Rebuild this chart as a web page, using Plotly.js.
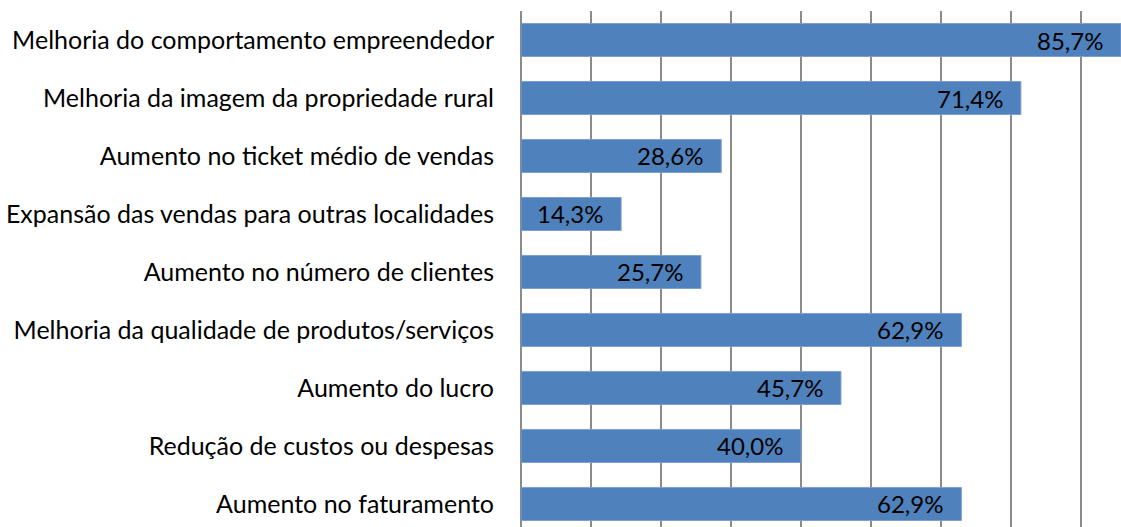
<!DOCTYPE html>
<html><head><meta charset="utf-8">
<script src="https://cdn.plot.ly/plotly-3.0.1.min.js"></script>
<style>html,body{margin:0;padding:0;background:#fff}#chart{width:1121px;height:527px}</style>
</head><body><div id="chart"></div>
<script>
const categories = [
  "Aumento no faturamento",
  "Redução de custos ou despesas",
  "Aumento do lucro",
  "Melhoria da qualidade de produtos/serviços",
  "Aumento no número de clientes",
  "Expansão das vendas para outras localidades",
  "Aumento no ticket médio de vendas",
  "Melhoria da imagem da propriedade rural",
  "Melhoria do comportamento empreendedor"
];
const values = [62.9, 40.0, 45.7, 62.9, 25.7, 14.3, 28.6, 71.4, 85.7];
const labels = values.map(v => v.toFixed(1).replace('.', ',') + '%');

const FONT = 'Lato, "Liberation Sans", sans-serif';

const trace = {
  type: 'bar', orientation: 'h',
  x: values, y: categories,
  marker: {color: '#4f81bd', line: {color: '#7f9fcf', width: 1}},
  hoverinfo: 'none'
};

const annotations = values.map((v, i) => ({
  x: v, y: categories[i], xref: 'x', yref: 'y',
  text: labels[i], showarrow: false, xanchor: 'right', xshift: -16,
  font: {family: FONT, size: 24, color: '#000'}
}));

const layout = {
  width: 1121, height: 527,
  margin: {l: 521, r: 0, t: 11, b: 0, pad: 0},
  paper_bgcolor: '#fff', plot_bgcolor: '#fff',
  showlegend: false,
  bargap: 0.43,
  xaxis: {
    range: [0, 85.7], dtick: 10, tick0: 0,
    showgrid: true, gridcolor: '#8a8a8a', gridwidth: 2,
    zeroline: true, zerolinecolor: '#8a8a8a', zerolinewidth: 2,
    showticklabels: false, ticks: '', showline: false, fixedrange: true
  },
  yaxis: {
    type: 'category', range: [-0.397, 8.5],
    showgrid: false, zeroline: false, showline: false, ticks: '',
    ticklabelstandoff: 26, automargin: false,
    tickfont: {family: FONT, size: 25, color: '#000'}
  },
  annotations: annotations
};

Plotly.newPlot('chart', [trace], layout, {staticPlot: true, displayModeBar: false});
</script></body></html>
